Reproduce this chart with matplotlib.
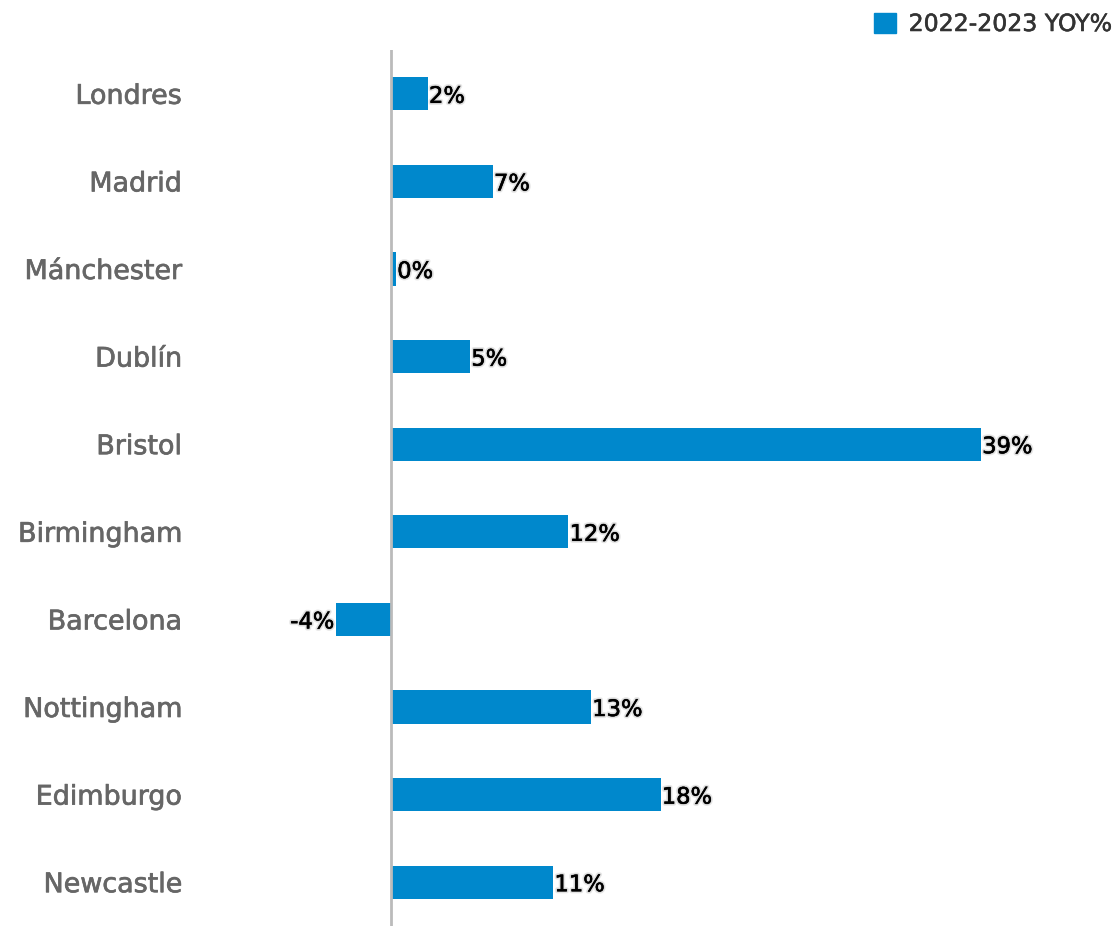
import matplotlib
matplotlib.use("Agg")
import matplotlib.pyplot as plt
import matplotlib.patheffects as pe
from matplotlib.patches import Patch

plt.rcParams["font.family"] = ["DejaVu Sans"]

cities = ["Londres", "Madrid", "Mánchester", "Dublín", "Bristol",
          "Birmingham", "Barcelona", "Nottingham", "Edimburgo", "Newcastle"]
yoy = [2.4, 6.7, 0.3, 5.2, 39.0, 11.7, -3.7, 13.2, 17.8, 10.7]
value_labels = ["2%", "7%", "0%", "5%", "39%", "12%", "-4%", "13%", "18%", "11%"]
series_name = "2022-2023 YOY%"

BAR_COLOR = "#0088cc"

fig = plt.figure(figsize=(11.17, 9.26), dpi=100, facecolor="white")
ax = fig.add_axes([195 / 1117, 0.0, 922 / 1117, 876 / 926])

ypos = list(range(len(cities)))
ax.barh(ypos, yoy, height=0.38, color=BAR_COLOR)
ax.axvline(0, color="#bbbbbb", linewidth=2, zorder=3)

# light halo with a faint grey edge, like the original labels
halo = [pe.withStroke(linewidth=3, foreground="#e6e6e6"),
        pe.withStroke(linewidth=1.2, foreground="#c4c4c4"),
        pe.withStroke(linewidth=0.2, foreground="black")]
for y, v, lab in zip(ypos, yoy, value_labels):
    ha = "left" if v >= 0 else "right"
    off = 0.08 if v >= 0 else -0.08
    ax.text(v + off, y, lab, ha=ha, va="center_baseline", fontsize=16.3, color="black",
            path_effects=halo, zorder=4)

ax.set_xlim(-13, 48)
ax.set_ylim(len(cities) - 0.5, -0.5)
ax.set_yticks(ypos)
ax.set_yticklabels(cities, fontsize=19.4, color="#666666",
                   path_effects=[pe.withStroke(linewidth=0.5, foreground="#666666")])
ax.tick_params(axis="y", length=0, pad=9.5)
ax.set_xticks([])
for s in ax.spines.values():
    s.set_visible(False)

handle = Patch(facecolor=BAR_COLOR, edgecolor=BAR_COLOR)
leg = fig.legend([handle], [series_name], loc="upper right",
                 bbox_to_anchor=(1112 / 1117, 1 - 12 / 926),
                 frameon=False, fontsize=17, labelcolor="#333333",
                 borderaxespad=0, borderpad=0,
                 handlelength=0.93, handleheight=0.93, handletextpad=0.55)
for t in leg.get_texts():
    t.set_path_effects([pe.withStroke(linewidth=0.4, foreground="#333333")])

fig.savefig("out.png", dpi=100, facecolor="white")
